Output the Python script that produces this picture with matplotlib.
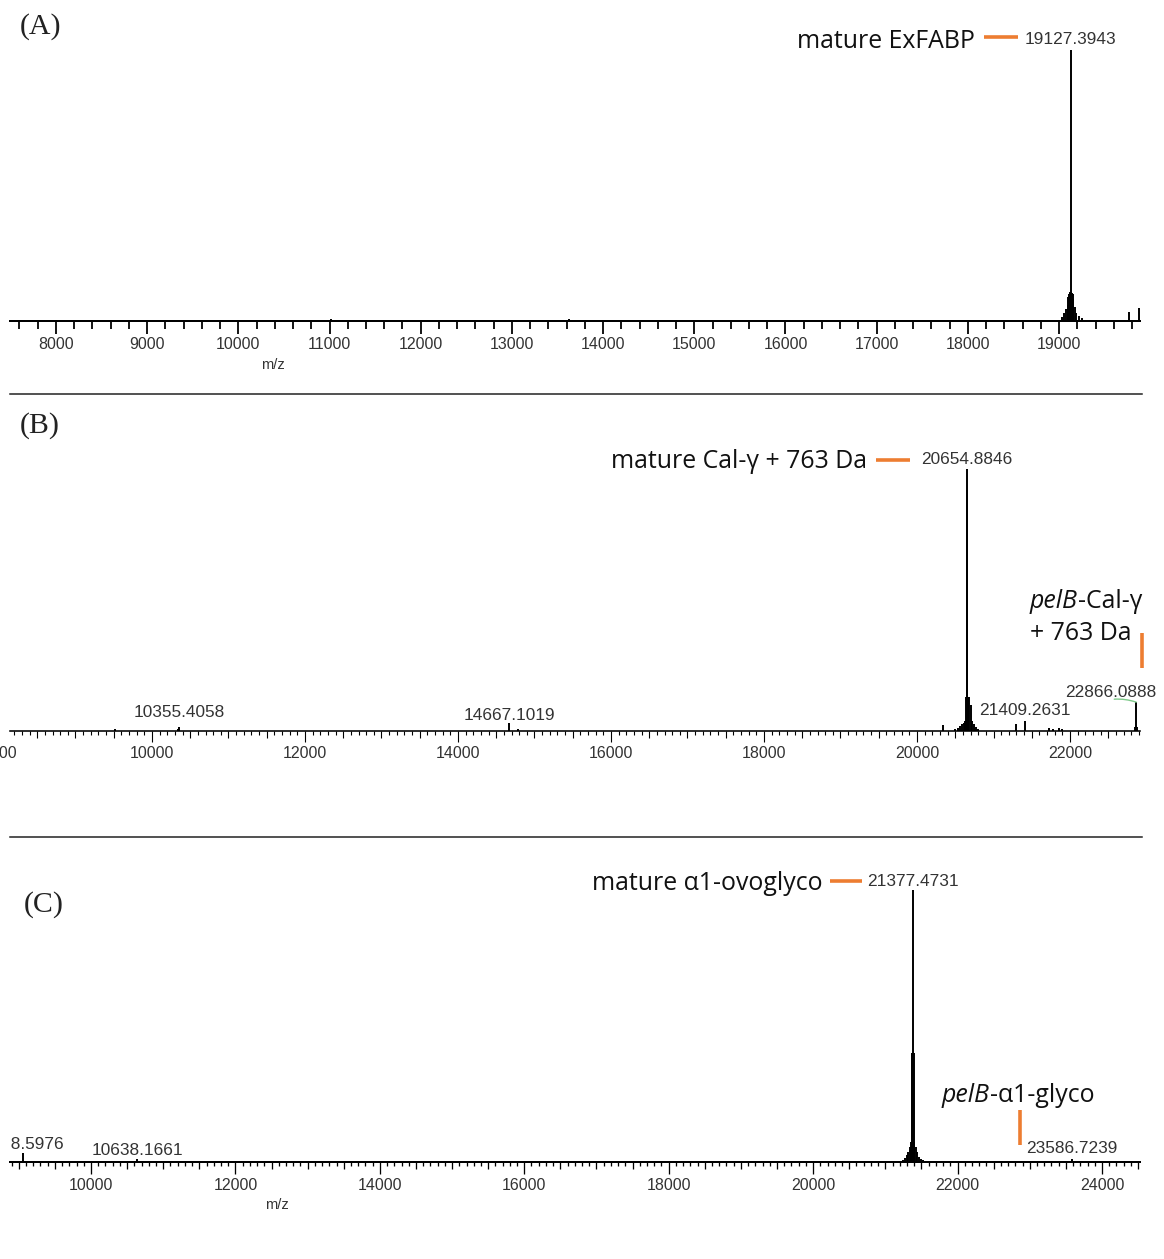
import matplotlib
matplotlib.use("Agg")
import matplotlib.pyplot as plt
from matplotlib.lines import Line2D
from matplotlib.transforms import Affine2D
from matplotlib.ticker import MultipleLocator

# ========================= DATA =========================
# (A) ExFABP spectrum: stick m/z and relative intensity (%)
a_mz = [11020, 13626,
        19000, 19030, 19060, 19080, 19095, 19100, 19108, 19115, 19120,
        19127.3943,
        19134, 19140, 19148, 19155, 19170, 19190, 19215, 19250, 19280,
        19770, 19880]
a_int = [0.8, 0.8,
         0.5, 1.5, 3.0, 4.5, 6.0, 9.0, 10.0, 10.5, 10.7,
         100.0,
         10.7, 10.5, 10.0, 8.0, 5.0, 3.0, 1.8, 1.0, 0.5,
         3.3, 4.8]
a_peak_labels = [19127.3943]

# (B) Cal-gamma spectrum
b_mz = [9516, 10340, 10355.4058, 14667.1019, 14790,
        20340, 20500, 20530, 20560, 20590, 20615, 20630, 20645,
        20650, 20654.8846, 20660,
        20670, 20685, 20700, 20720, 20740, 20770, 20800,
        21300, 21409.2631, 21720, 21780, 21850, 21900,
        22855, 22866.0888, 22878]
b_int = [0.8, 0.8, 1.6, 3.0, 0.8,
         2.3, 0.8, 1.2, 1.8, 2.5, 3.0, 4.0, 13.0,
         92.0, 100.0, 92.0,
         13.0, 13.0, 10.0, 4.0, 2.5, 1.5, 0.8,
         2.7, 3.8, 1.0, 0.8, 1.0, 0.8,
         1.5, 11.0, 1.5]
b_peak_labels = [10355.4058, 14667.1019, 20654.8846, 21409.2631, 22866.0888]

# (C) alpha1-ovoglycoprotein spectrum
c_mz = [9058.5976, 10638.1661,
        21240, 21270, 21300, 21320, 21340, 21355, 21365, 21372,
        21377.4731,
        21384, 21392, 21400, 21420, 21440, 21470, 21500, 21525,
        23586.7239]
c_int = [3.3, 1.0,
         0.8, 1.5, 2.5, 3.5, 5.5, 7.4, 40.0, 40.0,
         100.0,
         40.0, 40.0, 7.4, 5.5, 3.5, 2.0, 1.2, 0.6,
         1.0]
c_peak_labels = [9058.5976, 10638.1661, 21377.4731, 23586.7239]

panel_letters = ["(A)", "(B)", "(C)"]
axis_label = "m/z"

# ========================= LAYOUT / STYLE =========================
W, H, DPI = 1164, 1259, 100
PX = 72.0 / DPI                      # points per pixel
TICK_FONT = ["Liberation Sans", "DejaVu Sans"]
ANN_FONT = ["Open Sans", "DejaVu Sans"]
SERIF = ["Liberation Serif", "DejaVu Serif"]
TICK_COLOR = "#333333"
ORANGE = "#ED7D31"
ANN_SIZE = 17.9
VAL_SIZE = 12.4

fig = plt.figure(figsize=(W / DPI, H / DPI), dpi=DPI)
fig.patch.set_facecolor("white")
pix = Affine2D().scale(1.0 / W, -1.0 / H).translate(0, 1) + fig.transFigure


def make_panel(x0, x1, ytop, ybase, ypeak, xlim, mz, inten, spine_px):
    ax = fig.add_axes([x0 / W, (H - ybase) / H, (x1 - x0) / W, (ybase - ytop) / H])
    for s in ("left", "right", "top"):
        ax.spines[s].set_visible(False)
    ax.spines["bottom"].set_linewidth(spine_px * PX)
    ax.set_yticks([])
    ax.patch.set_alpha(0)
    ax.set_xlim(*xlim)
    ax.set_ylim(0, 100.0 * (ybase - ytop) / (ybase - ypeak))
    ax.vlines(mz, 0, inten, colors="black", lw=1.4, zorder=3)
    return ax


def style_ticks(ax, major, minor, medium, L_major, L_minor, L_medium, width_px, pad_px):
    ax.xaxis.set_major_locator(MultipleLocator(major))
    ax.xaxis.set_minor_locator(MultipleLocator(minor))
    ax.tick_params(axis="x", which="major", direction="out", length=L_major * PX,
                   width=width_px * PX, pad=pad_px * PX, labelsize=11.5,
                   labelcolor=TICK_COLOR, labelfontfamily="Liberation Sans")
    ax.tick_params(axis="x", which="minor", direction="out", length=L_minor * PX,
                   width=width_px * PX)
    if medium:
        locs = ax.xaxis.get_minorticklocs()
        ticks = ax.xaxis.get_minor_ticks(len(locs))
        for loc, t in zip(locs, ticks):
            r = loc / medium
            if abs(r - round(r)) < 1e-6:
                t.tick1line.set_markersize(L_medium * PX)


def label_peaks(ax, mz, inten, values, offsets, clip=False):
    for v, (dx, dy) in zip(values, offsets):
        top = inten[mz.index(v)]
        t = ax.annotate(f"{v:.4f}", xy=(v, top), xytext=(dx * PX, dy * PX),
                        textcoords="offset points", ha="center", va="center",
                        fontsize=VAL_SIZE, color=TICK_COLOR, family=TICK_FONT,
                        annotation_clip=False, zorder=4)
        if clip:
            t.set_clip_path(ax.patch)
        else:
            t.set_clip_on(False)


def ann_text(x, y, s, ha="left", style="normal"):
    return fig.text(x, y, s, transform=pix, ha=ha, va="baseline",
                    fontsize=ANN_SIZE, family=ANN_FONT, style=style, color="#111111")


def follow(ax, prev, s):
    return ax.annotate(s, xy=(1, 0), xycoords=prev, ha="left", va="bottom",
                       fontsize=ANN_SIZE, family=ANN_FONT, color="#111111",
                       annotation_clip=False)


def orange(xs, ys):
    fig.add_artist(Line2D(xs, ys, transform=pix, color=ORANGE, lw=2.6,
                          solid_capstyle="butt"))


# ---------------- Panel A ----------------
axA = make_panel(10, 1140, 20, 321, 50, (7496, 19888), a_mz, a_int, 2.0)
style_ticks(axA, 1000, 200, None, 13, 8, 8, 1.8, 3)
label_peaks(axA, a_mz, a_int, a_peak_labels, [(0, 10)])

# ---------------- Panel B ----------------
axB = make_panel(10, 1140, 420, 731, 469, (8144, 22915), b_mz, b_int, 1.6)
style_ticks(axB, 2000, 100, 500, 11, 4, 7, 1.1, 4)
label_peaks(axB, b_mz, b_int, b_peak_labels,
            [(0, 14), (0, 8), (0, 9), (0, 11), (-26, 10)])
# connector from 22866 label to its peak
b_lab_i = b_mz.index(22866.0888)
axB.annotate("", xy=(b_mz[b_lab_i], b_int[b_lab_i]), xytext=(-22 * PX, 3 * PX),
             textcoords="offset points", annotation_clip=False,
             arrowprops=dict(arrowstyle="-", color="#7fc98a", lw=1.0,
                             connectionstyle="arc3,rad=-0.1", shrinkA=0, shrinkB=0))
# clipped 8000 label at the left edge
axB.annotate("8000", xy=(8000, 0), xycoords=("data", "axes fraction"),
             xytext=(0, -(11 + 4) * PX), textcoords="offset points",
             ha="center", va="top", fontsize=11.5, color=TICK_COLOR,
             family=TICK_FONT, annotation_clip=False)

# ---------------- Panel C ----------------
axC = make_panel(10, 1140, 850, 1162, 890, (8878, 24527), c_mz, c_int, 2.0)
style_ticks(axC, 2000, 100, 500, 12, 4, 7, 1.3, 4)
label_peaks(axC, c_mz, c_int, [c_peak_labels[0]], [(0, 9)], clip=True)
label_peaks(axC, c_mz, c_int, c_peak_labels[1:], [(0, 9), (0, 8), (0, 11)])

# ---------------- texts ----------------
fig.text(41, 27, panel_letters[0], transform=pix, ha="center", va="center",
         fontsize=21.5, family=SERIF, color="#222222")
fig.text(40, 426, panel_letters[1], transform=pix, ha="center", va="center",
         fontsize=21.5, family=SERIF, color="#222222")
fig.text(44, 905, panel_letters[2], transform=pix, ha="center", va="center",
         fontsize=21.5, family=SERIF, color="#222222")

fig.text(273, 365, axis_label, transform=pix, ha="center", va="center",
         fontsize=10.5, family=TICK_FONT, color=TICK_COLOR)
fig.text(277, 1205, axis_label, transform=pix, ha="center", va="center",
         fontsize=10.5, family=TICK_FONT, color=TICK_COLOR)

# annotations
ann_text(975, 48, "mature ExFABP", ha="right")
orange([984, 1018], [37, 37])

ann_text(867, 468, "mature Cal-\u03b3 + 763 Da", ha="right")
orange([876, 910], [460, 460])
t = ann_text(1030, 608, "pelB", style="italic")
follow(axB, t, "-Cal-\u03b3")
ann_text(1030, 640, "+ 763 Da")
orange([1142, 1142], [633, 668])

ann_text(823, 890, "mature \u03b11-ovoglyco", ha="right")
orange([830, 862], [881, 881])
t = ann_text(942, 1102, "pelB", style="italic")
follow(axC, t, "-\u03b11-glyco")
orange([1020, 1020], [1110, 1145])

# separators
for yy in (394, 837):
    fig.add_artist(Line2D([10, 1142], [yy, yy], transform=pix, color="#222222", lw=1.1))

fig.savefig("out.png", dpi=DPI)
